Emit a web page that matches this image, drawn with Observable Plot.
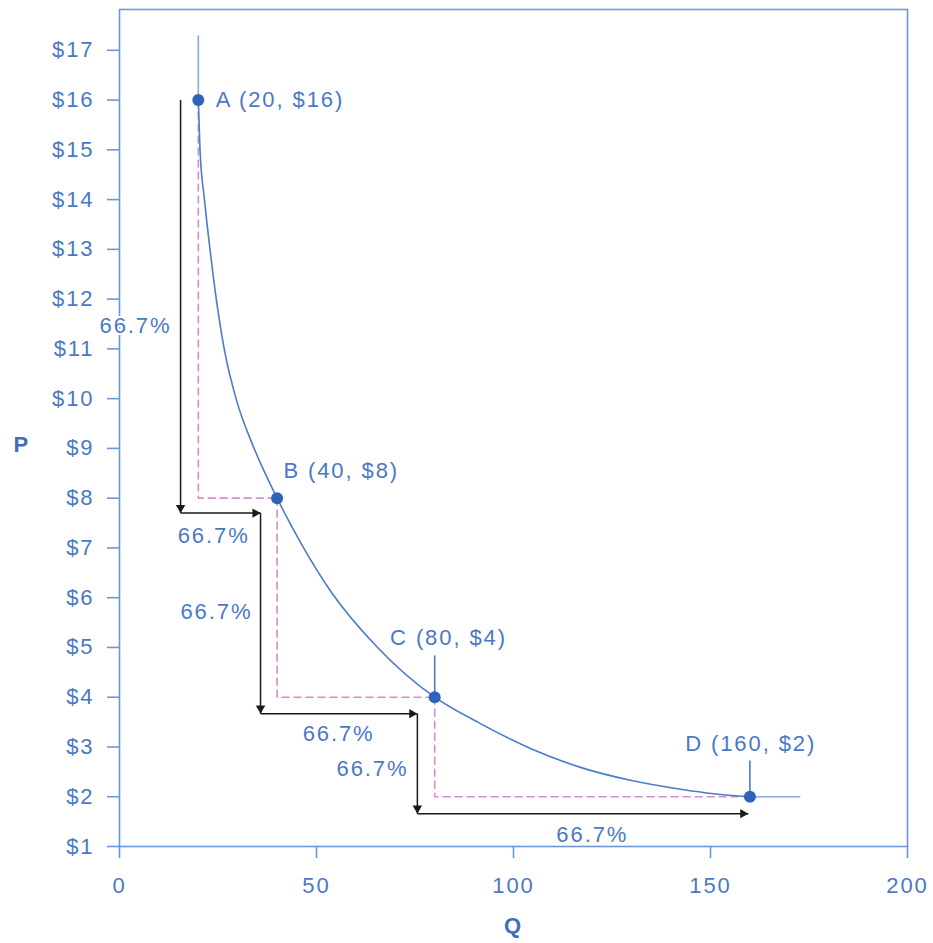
<!DOCTYPE html>
<html>
<head>
<meta charset="utf-8">
<script src="https://cdn.jsdelivr.net/npm/d3@7"></script>
<script src="https://cdn.jsdelivr.net/npm/@observablehq/plot@0.6"></script>
<style>
  html, body { margin: 0; padding: 0; background: #fff; }
</style>
</head>
<body>
<div id="chart"></div>
<script>
// ---- data ----
const xTicks = [0, 50, 100, 150, 200];
const yTicks = [1, 2, 3, 4, 5, 6, 7, 8, 9, 10, 11, 12, 13, 14, 15, 16, 17];

const pointNames = ["A (20, $16)", "B (40, $8)", "C (80, $4)", "D (160, $2)"];
const pointQ = [20, 40, 80, 160];
const pointP = [16, 8, 4, 2];
const pointLabelQ = [24.4, 41.6, 83.5, 160.2];
const pointLabelP = [16, 8.54, 5.2, 3.07];
const pointLabelAnchor = ["start", "start", "middle", "middle"];

// demand curve
const curveQ = [20, 20.43, 21.57, 22.97, 24.62, 26.65, 29.65, 33.85, 40, 46, 53.5, 65.5, 80, 91.6, 104.3, 117, 129.7, 142.4, 150.8, 160];
const curveP = [16, 15.01, 14.0, 13.0, 11.97, 10.97, 9.98, 9.06, 8, 7.1, 6.14, 5.0, 4, 3.47, 2.97, 2.59, 2.33, 2.15, 2.06, 2];

// curve extensions
const extX1 = [20, 160], extY1 = [16, 2], extX2 = [20, 172.8], extY2 = [17.3, 2];

// leader lines (C, D)
const leadQ = [80, 160], leadP1 = [4, 2], leadP2 = [4.84, 2.73];

// dashed step guides
const guideQ = [[20, 20, 40], [40, 40, 80], [80, 80, 160]];
const guideP = [[16, 8, 8], [8, 4, 4], [4, 2, 2]];

// black arrows
const arrowX1 = [15.5, 15.5, 35.8, 35.8, 75.6, 75.6];
const arrowY1 = [16, 7.7, 7.7, 3.67, 3.67, 1.66];
const arrowX2 = [15.5, 35.8, 35.8, 75.6, 75.6, 159.6];
const arrowY2 = [7.7, 7.7, 3.67, 3.67, 1.66, 1.66];
const arrowDir = ["down", "right", "down", "right", "down", "right"];

// percent labels
const pctText = ["66.7%", "66.7%", "66.7%", "66.7%", "66.7%", "66.7%"];
const pctQ = [4.06, 23.9, 24.6, 55.6, 64.2, 120];
const pctP = [11.47, 7.25, 5.72, 3.27, 2.55, 1.24];

// ---- build tables ----
const curve = curveQ.map((q, i) => ({q, p: curveP[i]}));
const points = pointQ.map((q, i) => ({q, p: pointP[i], name: pointNames[i], lq: pointLabelQ[i], lp: pointLabelP[i], anchor: pointLabelAnchor[i]}));
const exts = extX1.map((x, i) => ({x1: x, y1: extY1[i], x2: extX2[i], y2: extY2[i]}));
const leads = leadQ.map((q, i) => ({q, p1: leadP1[i], p2: leadP2[i]}));
const guides = guideQ.flatMap((qs, k) => qs.map((q, j) => ({q, p: guideP[k][j], g: k})));
const arrows = arrowX1.map((x, i) => ({x1: x, y1: arrowY1[i], x2: arrowX2[i], y2: arrowY2[i], dir: arrowDir[i]}));
const pcts = pctText.map((t, i) => ({t, q: pctQ[i], p: pctP[i]}));

const axisBlue = "#6b97d6";
const textBlue = "#4a79c4";
const curveBlue = "#4a7cc9";
const lightBlue = "#86a9e0";
const dotBlue = "#2d63b8";
const pink = "#d98ccc";
const ink = "#1a1a1a";
const font = "'Liberation Sans', Arial, Helvetica, sans-serif";

const chart = Plot.plot({
  width: 933,
  height: 943,
  marginLeft: 119,
  marginRight: 26,
  marginTop: 9,
  marginBottom: 97,
  x: {domain: [0, 200]},
  y: {domain: [1, 17.82]},
  style: {fontFamily: font, fontSize: "22px", color: textBlue, background: "#fff", letterSpacing: "1.9px", overflow: "visible"},
  marks: [
    Plot.frame({stroke: axisBlue, strokeWidth: 1.6}),
    Plot.axisY(yTicks, {tickSize: 12, tickPadding: 13, tickFormat: d => "$" + d, label: null, stroke: axisBlue, strokeWidth: 1.6, fill: textBlue}),
    Plot.axisX(xTicks, {tickSize: 12, tickPadding: 19, label: null, stroke: axisBlue, strokeWidth: 1.6, fill: textBlue}),
    // dashed guides
    Plot.line(guides, {x: "q", y: "p", z: "g", stroke: pink, strokeWidth: 1.6, strokeDasharray: "7,5"}),
    // curve extensions and leaders
    Plot.link(exts, {x1: "x1", y1: "y1", x2: "x2", y2: "y2", stroke: lightBlue, strokeWidth: 1.6}),
    Plot.link(leads, {x1: "q", y1: "p1", x2: "q", y2: "p2", stroke: curveBlue, strokeWidth: 1.6}),
    // demand curve
    Plot.line(curve, {x: "q", y: "p", curve: "monotone-x", stroke: curveBlue, strokeWidth: 1.6}),
    // arrows
    Plot.link(arrows, {x1: "x1", y1: "y1", x2: "x2", y2: "y2", stroke: ink, strokeWidth: 1.5}),
    Plot.dot(arrows.filter(d => d.dir === "down"), {x: "x2", y: "y2", symbol: "triangle", r: 3.5, rotate: 180, fill: ink, stroke: "none", dy: -5.4}),
    Plot.dot(arrows.filter(d => d.dir === "right"), {x: "x2", y: "y2", symbol: "triangle", r: 3.5, rotate: 90, fill: ink, stroke: "none", dx: -5.4}),
    // points
    Plot.dot(points, {x: "q", y: "p", r: 6, fill: dotBlue, stroke: "none"}),
    Plot.text(points.filter(d => d.anchor === "start"), {x: "lq", y: "lp", text: "name", textAnchor: "start", fill: textBlue}),
    Plot.text(points.filter(d => d.anchor === "middle"), {x: "lq", y: "lp", text: "name", textAnchor: "middle", fill: textBlue}),
    // percent labels
    Plot.text(pcts, {x: "q", y: "p", text: "t", fill: textBlue, stroke: "#fff", strokeWidth: 4, paintOrder: "stroke"}),
    // axis titles
    Plot.text(["P"], {frameAnchor: "left", dx: -106, dy: 17, text: d => d, fontWeight: "bold", fill: "#3f6fba"}),
    Plot.text(["Q"], {frameAnchor: "bottom", dy: 86, text: d => d, fontWeight: "bold", fill: "#3f6fba"})
  ]
});
document.getElementById("chart").appendChild(chart);
</script>
</body>
</html>
